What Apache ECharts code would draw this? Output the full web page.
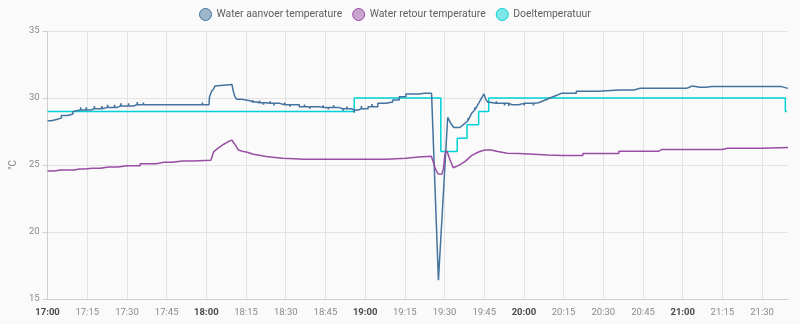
<!DOCTYPE html>
<html>
<head>
<meta charset="utf-8">
<script src="https://cdn.jsdelivr.net/npm/echarts@6/dist/echarts.min.js"></script>
<style>
html,body{margin:0;padding:0;background:#fafafa;}
#chart{width:800px;height:324px;}
</style>
</head>
<body>
<div id="chart"></div>
<script>
// Series names (legend)
const seriesNames = ['Water aanvoer temperature', 'Water retour temperature', 'Doeltemperatuur'];
const seriesColors = ['#44739e', '#984ea3', '#00d2d5'];

// Time in minutes after 17:00, value in °C
const supplyPoints = [
  [0,28.3],[1.5,28.3],[1.5,28.4],[3.3,28.4],[3.3,28.5],[5.2,28.5],[5.2,28.7],[7.7,28.7],[7.7,28.8],[9.6,28.8],[9.6,29.0],[10.2,29.0],[10.2,29.1],
  [12.4,29.1],[12.5,29.3],[12.6,29.1],[14.5,29.1],[14.6,29.3],[14.7,29.1],
  [16.4,29.1],[16.4,29.2],[17.6,29.2],[17.7,29.4],[17.8,29.2],[19.2,29.2],[19.3,29.1],[19.4,29.2],
  [20.4,29.2],[20.5,29.4],[20.6,29.2],[21.2,29.2],[21.2,29.3],[22.6,29.3],[22.7,29.5],[22.8,29.3],
  [24.0,29.3],[24.1,29.2],[24.2,29.3],[25.2,29.3],[25.3,29.5],[25.4,29.3],[26.3,29.3],[26.3,29.4],
  [27.6,29.4],[27.7,29.6],[27.8,29.4],[29.2,29.4],[29.3,29.3],[29.4,29.4],[30.5,29.4],[30.6,29.6],[30.7,29.4],
  [32.4,29.4],[32.4,29.5],[33.8,29.5],[33.9,29.7],[34.0,29.5],[36.1,29.5],[36.2,29.65],[36.3,29.5],
  [43.5,29.5],[43.6,29.4],[43.7,29.5],[47.2,29.5],[47.3,29.4],[47.4,29.5],[52.4,29.5],[52.5,29.4],[52.6,29.5],
  [54.7,29.5],[54.8,29.6],[54.9,29.5],[58.4,29.5],[58.5,29.65],[58.6,29.5],
  [61.0,29.5],[61.2,30.1],[62.0,30.5],[62.8,30.7],[63.3,30.9],[64.0,31.0],
  [69.7,31.0],[70.2,30.5],[70.8,30.1],[71.5,29.9],[73.4,29.9],[73.4,29.8],[76.5,29.8],[76.5,29.7],
  [77.5,29.7],[77.6,29.85],[77.7,29.7],[78.8,29.7],[78.8,29.65],[80.0,29.65],[80.1,29.8],[80.2,29.65],
  [81.5,29.65],[81.6,29.5],[81.7,29.65],[82.6,29.65],[82.6,29.6],[84.0,29.6],[84.1,29.75],[84.2,29.6],
  [85.5,29.6],[85.6,29.45],[85.7,29.6],[87.7,29.6],[87.7,29.5],[89.5,29.5],[89.6,29.65],[89.7,29.5],
  [91.5,29.5],[91.6,29.35],[91.7,29.5],[95.1,29.5],[95.1,29.35],[97.0,29.35],[97.1,29.5],[97.2,29.35],
  [99.0,29.35],[99.1,29.2],[99.2,29.35],[102.5,29.35],[102.5,29.3],[104.0,29.3],[104.1,29.45],[104.2,29.3],
  [106.0,29.3],[106.1,29.15],[106.2,29.3],[108.0,29.3],[108.1,29.45],[108.2,29.3],[110.0,29.3],[110.0,29.2],
  [111.5,29.2],[111.6,29.05],[111.7,29.2],[113.0,29.2],[113.1,29.35],[113.2,29.2],[114.9,29.2],[114.9,29.1],
  [115.8,29.1],[115.9,28.9],[116.0,29.1],[117.4,29.1],[117.4,29.2],[118.5,29.2],[118.6,29.4],[118.7,29.2],
  [121.1,29.2],[121.1,29.35],[122.5,29.35],[122.6,29.55],[122.7,29.35],[124.8,29.35],[124.8,29.6],
  [127.9,29.6],[127.9,29.7],[130.4,29.7],[130.4,29.85],[132.9,29.85],[132.9,30.1],[135.4,30.1],[135.4,30.3],
  [138.0,30.3],[138.1,30.4],[138.2,30.3],[140.3,30.3],[140.3,30.35],[142.5,30.35],[142.6,30.25],[142.7,30.35],
  [145.1,30.35],[147.7,16.4],[151.2,28.55],[152.4,28.1],[153.5,27.8],[155.8,27.8],[157.7,28.1],
  [158.8,28.3],[158.9,28.5],[159.0,28.35],[160.2,28.85],[161.4,29.1],[161.5,29.3],[161.6,29.15],
  [162.6,29.5],[164.9,30.3],[165.3,30.3],[165.6,29.9],[166.3,29.7],[167.0,29.6],
  [169.5,29.6],[169.6,29.75],[169.7,29.6],[172.6,29.6],[172.7,29.45],[172.8,29.6],
  [174.2,29.6],[174.3,29.4],[174.4,29.6],[175.5,29.5],[178.0,29.5],[178.0,29.6],
  [180.0,29.6],[180.1,29.45],[180.2,29.6],[183.5,29.6],[183.6,29.45],[183.7,29.6],
  [185.5,29.65],[187.4,29.8],[189.9,30.0],[192.4,30.2],[194.2,30.35],
  [199.8,30.35],[199.8,30.5],[207.9,30.5],[207.9,30.6],[216.2,30.6],[216.3,30.7],[216.4,30.6],
  [221.5,30.6],[221.5,30.72],[224.0,30.72],[224.1,30.62],[224.2,30.72],
  [241.4,30.72],[241.4,30.8],[242.5,30.8],[242.6,30.9],[243.6,30.9],[243.7,30.8],
  [246.5,30.8],[246.6,30.9],[247.2,30.9],[247.3,30.8],[248.8,30.8],[248.8,30.85],
  [251.0,30.85],[251.1,30.75],[251.2,30.85],[252.5,30.85],[252.6,30.75],[252.7,30.85],
  [254.0,30.85],[254.1,30.75],[254.2,30.85],[259.5,30.85],[259.6,30.75],[259.7,30.85],
  [277.3,30.85],[277.8,30.72],[279.8,30.72]
];

const returnPoints = [
  [0,24.55],[2.5,24.55],[2.5,24.63],[5.0,24.63],[5.1,24.7],[5.2,24.63],[8.0,24.63],[8.1,24.7],[8.2,24.63],
  [10.0,24.63],[10.0,24.7],[12.0,24.7],[12.1,24.78],[12.2,24.7],[14.0,24.7],[14.0,24.75],
  [17.0,24.75],[17.1,24.85],[17.2,24.75],[20.0,24.75],[20.0,24.85],[23.0,24.85],[23.1,24.95],[23.2,24.85],
  [26.5,24.85],[26.5,24.95],[30.0,24.95],[30.1,25.05],[30.2,24.95],[35.0,24.95],[35.0,25.1],
  [38.0,25.1],[38.1,25.2],[38.2,25.1],[41.0,25.1],[41.0,25.2],[44.0,25.2],[44.1,25.3],[44.2,25.2],
  [47.0,25.2],[47.0,25.3],[51.0,25.3],[51.1,25.25],[51.2,25.3],[55.0,25.3],[55.0,25.35],
  [61.7,25.35],[62.8,26.0],[64.7,26.3],[66.6,26.55],[68.8,26.8],[69.7,26.85],[70.9,26.5],[72.1,26.12],
  [74.0,26.0],[75.5,25.95],[77.7,25.8],[80.0,25.72],[82.6,25.63],[85.0,25.58],[88.9,25.5],[93.0,25.47],[97.0,25.43],
  [99.0,25.43],[99.1,25.33],[99.2,25.43],[102.0,25.43],[102.1,25.33],[102.2,25.43],
  [105.0,25.43],[105.1,25.33],[105.2,25.43],[108.0,25.43],[108.1,25.33],[108.2,25.43],
  [111.0,25.43],[111.1,25.33],[111.2,25.43],[116.0,25.43],[116.1,25.33],[116.2,25.43],
  [120.0,25.43],[120.1,25.33],[120.2,25.43],[126.0,25.43],[126.1,25.33],[126.2,25.43],
  [127.9,25.43],[135.4,25.5],[140.2,25.6],[145.0,25.65],
  [145.9,25.13],[146.5,24.75],[147.5,24.35],[149.0,24.3],[149.6,24.75],[150.2,25.87],[150.9,26.05],
  [152.1,25.37],[153.3,24.8],[154.0,24.68],[155.2,24.95],[157.7,25.25],[160.2,25.7],[162.6,25.95],
  [165.1,26.12],[167.6,26.12],[170.1,26.0],[173.7,25.87],[178.0,25.85],[183.7,25.8],[189.0,25.75],[194.9,25.7],
  [202.3,25.7],[202.3,25.85],[203.5,25.85],[203.6,25.75],[203.7,25.85],[209.0,25.85],[209.1,25.95],[209.2,25.85],
  [215.9,25.85],[215.9,26.02],[218.0,26.02],[218.1,25.92],[218.2,26.02],
  [230.8,26.02],[230.8,26.15],[232.0,26.15],[232.1,26.05],[232.2,26.15],[236.5,26.15],[236.6,26.05],[236.7,26.15],
  [255.0,26.15],[255.0,26.25],[257.0,26.25],[257.1,26.17],[257.2,26.25],[261.0,26.25],[261.1,26.17],[261.2,26.25],
  [264.0,26.25],[264.1,26.17],[264.2,26.25],[270.0,26.25],[270.1,26.17],[270.2,26.25],[279.8,26.3]
];

const targetPoints = [
  [0,29.0],[115.9,30.0],[148.6,26.0],[154.8,27.0],[158.5,28.0],[162.9,29.0],[166.7,30.0],[278.8,29.0],[279.4,29.0]
];

const yTicks = [15, 20, 25, 30, 35];
const xStartHour = 17;

function fmtTime(v) {
  const m = Math.round(v);
  if (Math.abs(v - m) > 0.01 || m % 15 !== 0) return '';
  const h = xStartHour + Math.floor(m / 60);
  const mm = m % 60;
  const s = h + ':' + (mm < 10 ? '0' : '') + mm;
  return mm === 0 ? '{b|' + s + '}' : s;
}

const chart = echarts.init(document.getElementById('chart'), null, {renderer: 'canvas'});
const fam = 'Roboto, sans-serif';
chart.setOption({
  animation: false,
  backgroundColor: '#fafafa',
  textStyle: {fontFamily: fam},
  legend: {
    left: 194, top: 3,
    itemWidth: 12, itemHeight: 12, itemGap: 10,
    icon: 'circle',
    textStyle: {color: '#5e5e5e', fontSize: 10.4, fontFamily: fam},
    data: seriesNames.map((n, i) => ({
      name: n,
      itemStyle: {color: seriesColors[i] + '80', borderColor: seriesColors[i], borderWidth: 1}
    }))
  },
  grid: {left: 36, right: 12, top: 31, bottom: 25, containLabel: false},
  xAxis: {
    type: 'value', min: 0, max: 279.8, interval: 15,
    axisLine: {show: true, lineStyle: {color: '#cfcfcf'}},
    axisTick: {show: false},
    splitLine: {show: true, showMaxLine: false, lineStyle: {color: '#e3e3e3'}},
    axisLabel: {
      margin: 9, color: '#8a8a8a', fontSize: 9.5, fontFamily: fam,
      showMaxLabel: false,
      formatter: fmtTime,
      rich: {b: {fontWeight: 'bold', color: '#4a4a4a', fontSize: 9.5, fontFamily: fam}}
    }
  },
  yAxis: {
    type: 'value', min: yTicks[0], max: yTicks[yTicks.length - 1], interval: 5,
    name: '°C', nameLocation: 'middle', nameGap: 28, nameRotate: 90,
    nameTextStyle: {color: '#8a8a8a', fontSize: 10, fontFamily: fam},
    axisLine: {show: true, lineStyle: {color: '#cfcfcf'}},
    axisTick: {show: true, length: 5, lineStyle: {color: '#cfcfcf'}},
    splitLine: {show: true, lineStyle: {color: '#e3e3e3'}},
    axisLabel: {margin: 8, color: '#8a8a8a', fontSize: 9.5, fontFamily: fam}
  },
  series: [
    {name: seriesNames[0], type: 'line', data: supplyPoints, showSymbol: false, symbol: 'none',
     lineStyle: {color: seriesColors[0], width: 1.5}, itemStyle: {color: seriesColors[0]}, z: 3},
    {name: seriesNames[1], type: 'line', data: returnPoints, showSymbol: false, symbol: 'none',
     lineStyle: {color: seriesColors[1], width: 1.5}, itemStyle: {color: seriesColors[1]}, z: 3},
    {name: seriesNames[2], type: 'line', data: targetPoints, step: 'end', showSymbol: false, symbol: 'none',
     lineStyle: {color: seriesColors[2], width: 1.5}, itemStyle: {color: seriesColors[2]}, z: 2}
  ]
});
</script>
</body>
</html>
